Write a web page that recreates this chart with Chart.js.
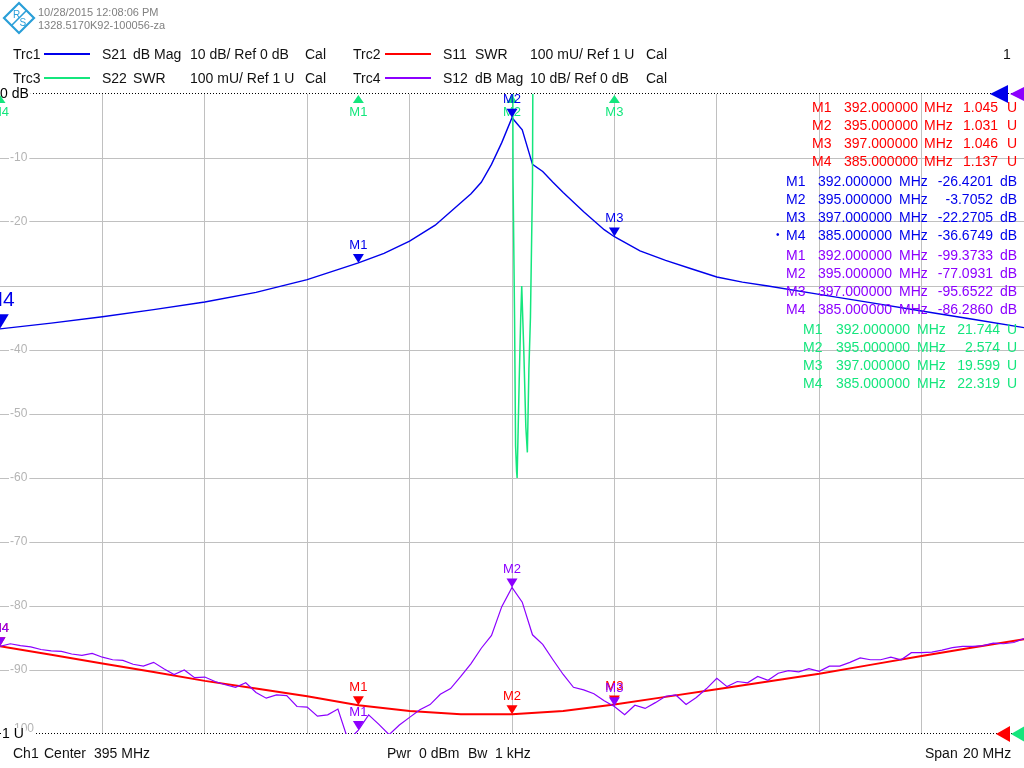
<!DOCTYPE html>
<html>
<head>
<meta charset="utf-8">
<script src="https://cdn.jsdelivr.net/npm/chart.js@4.4.0/dist/chart.umd.min.js"></script>
<style>
  html, body { margin: 0; padding: 0; background: #fff; }
  #wrap { position: relative; width: 1024px; height: 768px; overflow: hidden; font-family: "Liberation Sans", Arial, sans-serif; }
  #chart { position: absolute; left: 0; top: 0; }
  .t { position: absolute; white-space: pre; font-size: 14px; line-height: 16px; transform: translateY(-50%); }
  .r { transform: translate(-100%, -50%); }
  .tl { position: absolute; height: 2px; width: 46px; }
</style>
</head>
<body>
<div id="wrap">
  <canvas id="chart" width="1024" height="768"></canvas>
  <svg style="position:absolute;left:2px;top:1px" width="34" height="34" viewBox="0 0 34 34">
    <path d="M17 2 L32 17 L17 32 L2 17 Z" fill="none" stroke="#2a9fd8" stroke-width="2.2"/>
    <path d="M10 24 L24 10" stroke="#2a9fd8" stroke-width="1.6"/>
    <text x="11" y="17" font-family="Liberation Sans" font-size="10" fill="#2a9fd8">R</text>
    <text x="17.5" y="25" font-family="Liberation Sans" font-size="10" fill="#2a9fd8">S</text>
  </svg>
</div>
<script>
// sweep 385 .. 405 MHz (center 395, span 20)
const freqS21 = [385, 386, 387, 388, 389, 390, 391, 392, 392.5, 393, 393.5, 394, 394.2, 394.4, 394.6, 394.8,
    395, 395.2, 395.4, 395.6, 395.8, 396, 396.4, 396.8, 397, 397.5, 398, 398.5, 399, 399.5, 400, 401, 402, 403, 404, 405];
const s21 = [-36.7, -35.8, -34.8, -33.7, -32.5, -31.0, -29.0, -26.4, -24.9, -23.0, -20.5, -17.0, -15.6, -13.8, -11.0, -7.6,
    -3.7, -5.6, -11.0, -12.1, -13.8, -15.4, -18.4, -21.2, -22.3, -24.5, -26.0, -27.3, -28.6, -29.4, -30.0, -31.3, -32.6, -33.9, -35.2, -36.5];

const freqS11 = [385, 386, 387, 388, 389, 390, 391, 392, 393, 394, 395, 396, 397, 398, 399, 400, 401, 402, 403, 404, 405];
const s11 = [1.137, 1.124, 1.110, 1.097, 1.083, 1.071, 1.059, 1.045, 1.036, 1.031, 1.031, 1.036, 1.046, 1.058, 1.070, 1.082,
    1.094, 1.108, 1.122, 1.135, 1.148];

const freqS22 = [385, 388, 392, 394, 394.8, 394.9, 395, 395.02, 395.05, 395.07, 395.09, 395.1, 395.14, 395.17, 395.19,
    395.23, 395.27, 395.3, 395.33, 395.36, 395.4, 395.42, 395.5, 396, 397, 400, 405];
const s22 = [22.32, 22.1, 21.74, 15, 6, 4, 2.574, 1.87, 1.65, 1.45, 1.41, 1.40, 1.55, 1.65, 1.70,
    1.60, 1.48, 1.44, 1.57, 1.65, 1.86, 2.3, 8, 16, 19.6, 21, 22];

const freqS12 = [385.0, 385.2, 385.4, 385.6, 385.8, 386.0, 386.2, 386.4, 386.6, 386.8, 387.0, 387.2, 387.4, 387.6, 387.8,
    388.0, 388.2, 388.4, 388.6, 388.8, 389.0, 389.2, 389.4, 389.6, 389.8, 390.0, 390.2, 390.4, 390.6, 390.8,
    391.0, 391.2, 391.4, 391.6, 391.8, 392.0, 392.2, 392.4, 392.6, 392.8, 393.0, 393.2, 393.4, 393.6, 393.8,
    394.0, 394.2, 394.4, 394.6, 394.8, 395.0, 395.2, 395.4, 395.6, 395.8, 396.0, 396.2, 396.4, 396.6, 396.8,
    397.0, 397.2, 397.4, 397.6, 397.8, 398.0, 398.2, 398.4, 398.6, 398.8, 399.0, 399.2, 399.4, 399.6, 399.8,
    400.0, 400.2, 400.4, 400.6, 400.8, 401.0, 401.2, 401.4, 401.6, 401.8, 402.0, 402.2, 402.4, 402.6, 402.8,
    403.0, 403.2, 403.4, 403.6, 403.8, 404.0, 404.2, 404.4, 404.6, 404.8, 405.0];
const s12 = [-86.3, -85.9, -86.2, -86.4, -86.8, -87.0, -87.1, -87.5, -87.7, -87.4, -88.0, -88.4, -88.5, -89.1, -89.4,
    -88.8, -89.8, -90.7, -90.0, -91.2, -91.1, -91.8, -92.3, -92.7, -92.0, -93.5, -94.4, -93.9, -94.0, -95.7,
    -95.8, -97.2, -97.0, -96.1, -101.0, -99.4, -97.0, -98.5, -100.1, -98.6, -97.4, -96.2, -95.4, -93.8, -92.9,
    -91.0, -89.0, -86.6, -84.6, -80.1, -77.1, -79.4, -84.5, -86.0, -88.4, -90.7, -92.7, -93.1, -93.7, -94.8,
    -95.7, -97.0, -95.5, -96.0, -95.1, -94.1, -93.9, -95.4, -94.3, -92.9, -91.3, -92.6, -91.8, -92.0, -91.0,
    -91.6, -90.5, -90.1, -90.3, -89.8, -90.2, -89.4, -89.4, -88.8, -88.1, -88.4, -88.4, -88.0, -88.4, -87.3,
    -87.3, -87.2, -86.9, -86.5, -86.3, -86.3, -86.2, -85.8, -85.9, -85.7, -85.1];

// markers
const markerNames = ["M1", "M2", "M3", "M4"];
const markerFreqs = [392, 395, 397, 385];
const mkS11 = [1.045, 1.031, 1.046, 1.137];
const mkS21 = [-26.4201, -3.7052, -22.2705, -36.6749];
const mkS12 = [-99.3733, -77.0931, -95.6522, -86.2860];
const mkS22 = [21.744, 2.574, 19.599, 22.319];

// y grid labels (dB traces); -30 is covered by the M4 marker on the instrument
const dbTicks = [-10, -20, -40, -50, -60, -70, -80, -90, -100];
const dbTickLabels = ["-10", "-20", "-40", "-50", "-60", "-70", "-80", "-90", "-100"];

const BLUE = "rgb(0,0,235)";
const RED = "rgb(255,0,0)";
const GREEN = "rgb(20,230,125)";
const PURPLE = "rgb(140,0,255)";
const FONT = "'Liberation Sans', Arial, sans-serif";

const wrap = document.getElementById("wrap");

function put(text, x, y, color, size, right) {
    const el = document.createElement("div");
    el.className = right ? "t r" : "t";
    el.textContent = text;
    el.style.left = x + "px";
    el.style.top = y + "px";
    el.style.color = color || "#111";
    if (size) el.style.fontSize = size + "px";
    wrap.appendChild(el);
}

function traceLine(x, y, color) {
    const el = document.createElement("div");
    el.className = "tl";
    el.style.left = x + "px";
    el.style.top = (y - 1) + "px";
    el.style.background = color;
    wrap.appendChild(el);
}

// header
put("10/28/2015 12:08:06 PM", 38, 12, "#808080", 11);
put("1328.5170K92-100056-za", 38, 25, "#808080", 11);

put("Trc1", 13, 54); traceLine(44, 54, BLUE); put("S21", 102, 54); put("dB Mag", 133, 54);
put("10 dB/ Ref 0 dB", 190, 54); put("Cal", 305, 54);
put("Trc2", 353, 54); traceLine(385, 54, RED); put("S11", 443, 54); put("SWR", 475, 54);
put("100 mU/ Ref 1 U", 530, 54); put("Cal", 646, 54);
put("1", 1003, 54);

put("Trc3", 13, 78); traceLine(44, 78, GREEN); put("S22", 102, 78); put("SWR", 133, 78);
put("100 mU/ Ref 1 U", 190, 78); put("Cal", 305, 78);
put("Trc4", 353, 78); traceLine(385, 78, PURPLE); put("S12", 443, 78); put("dB Mag", 475, 78);
put("10 dB/ Ref 0 dB", 530, 78); put("Cal", 646, 78);

// footer
put("Ch1", 13, 753); put("Center", 44, 753); put("395 MHz", 94, 753);
put("Pwr", 387, 753); put("0 dBm", 419, 753); put("Bw", 468, 753); put("1 kHz", 495, 753);
put("Span", 925, 753); put("20 MHz", 963, 753);

// marker readout
function readout(vals, digits, unit, color, cols, y0) {
    vals.forEach((v, i) => {
        const y = y0 + i * 18;
        put(markerNames[i], cols[0], y, color);
        put(markerFreqs[i].toFixed(6), cols[1], y, color, 0, true);
        put("MHz", cols[2], y, color);
        put(v.toFixed(digits), cols[3], y, color, 0, true);
        put(unit, cols[4], y, color);
    });
}
readout(mkS11, 3, "U", RED, [812, 918, 924, 998, 1007], 106.7);
readout(mkS21, 4, "dB", BLUE, [786, 892, 899, 993, 1000], 180.7);
put("\u2022", 776, 234.7, BLUE, 10);
readout(mkS12, 4, "dB", PURPLE, [786, 892, 899, 993, 1000], 254.7);
readout(mkS22, 3, "U", GREEN, [803, 910, 917, 1000, 1007], 328.5);

const traces = [
    { axis: "swr", color: GREEN, vals: mkS22, active: -1 },
    { axis: "db", color: BLUE, vals: mkS21, active: 3 },
    { axis: "swr", color: RED, vals: mkS11, active: -1 },
    { axis: "db", color: PURPLE, vals: mkS12, active: -1 },
];

function tri(ctx, x, y, w, h, up) {
    ctx.beginPath();
    ctx.moveTo(x, y);
    ctx.lineTo(x - w / 2, up ? y + h : y - h);
    ctx.lineTo(x + w / 2, up ? y + h : y - h);
    ctx.closePath();
    ctx.fill();
}

function refArrow(ctx, tipX, y, w, h) {
    ctx.beginPath();
    ctx.moveTo(tipX, y);
    ctx.lineTo(tipX + w, y - h / 2);
    ctx.lineTo(tipX + w, y + h / 2);
    ctx.closePath();
    ctx.fill();
}

const vnaPlugin = {
    id: "vna",
    beforeDatasetsDraw(chart) {
        const { ctx, chartArea: a, scales } = chart;
        const db = scales.db;
        ctx.save();
        ctx.strokeStyle = "#000";
        ctx.lineWidth = 1;
        ctx.setLineDash([1, 2]);
        [db.getPixelForValue(0), db.getPixelForValue(-100)].forEach((y) => {
            const yy = Math.round(y) - 0.5;
            ctx.beginPath();
            ctx.moveTo(a.left, yy);
            ctx.lineTo(a.right, yy);
            ctx.stroke();
        });
        ctx.setLineDash([]);
        ctx.textBaseline = "middle";
        ctx.font = "12px " + FONT;
        dbTicks.forEach((v, i) => {
            const y = db.getPixelForValue(v);
            const w = ctx.measureText(dbTickLabels[i]).width;
            ctx.fillStyle = "#fff";
            ctx.fillRect(9, y - 6, w + 3, 12);
            ctx.fillStyle = "#b4b4b4";
            ctx.fillText(dbTickLabels[i], 10, y - (v === -100 ? 5 : 0));
        });
        ctx.font = "14px " + FONT;
        [["0 dB", db.getPixelForValue(0), 0], ["1 U", scales.swr.getPixelForValue(1), 2]].forEach(([s, y, x]) => {
            const w = ctx.measureText(s).width;
            ctx.fillStyle = "#fff";
            ctx.fillRect(x, y - 6, w + 2, 12);
            ctx.fillStyle = "#000";
            ctx.fillText(s, x, y);
        });
        ctx.restore();
    },
    afterDatasetsDraw(chart) {
        const { ctx, chartArea: a, scales } = chart;
        ctx.save();
        ctx.textAlign = "center";
        ctx.textBaseline = "middle";
        traces.forEach((tr) => {
            const sc = scales[tr.axis];
            tr.vals.forEach((v, i) => {
                const px = scales.x.getPixelForValue(markerFreqs[i]);
                const py = sc.getPixelForValue(v);
                const big = tr.active === i ? 1.6 : 1;
                ctx.fillStyle = tr.color;
                ctx.font = Math.round(13 * big) + "px " + FONT;
                if (py < a.top) {
                    tri(ctx, px, a.top + 1, 11, 8, true);
                    ctx.fillText(markerNames[i], px, a.top + 18);
                } else {
                    tri(ctx, px, py, 11 * big, 9 * big, false);
                    ctx.fillText(markerNames[i], px, py - 18 * big);
                }
            });
        });
        // reference level arrows
        const y0 = scales.db.getPixelForValue(0);
        const y1 = scales.swr.getPixelForValue(1);
        ctx.fillStyle = BLUE; refArrow(ctx, a.right - 34, y0, 18, 18);
        ctx.fillStyle = PURPLE; refArrow(ctx, a.right - 14, y0, 18, 18);
        ctx.fillStyle = RED; refArrow(ctx, a.right - 28, y1, 14, 16);
        ctx.fillStyle = GREEN; refArrow(ctx, a.right - 13, y1, 14, 16);
        ctx.restore();
    },
};

const pts = (xs, ys) => xs.map((x, i) => ({ x: x, y: ys[i] }));

new Chart(document.getElementById("chart"), {
    type: "line",
    data: {
        datasets: [
            { label: "Trc4 S12", data: pts(freqS12, s12), yAxisID: "db", borderColor: PURPLE, borderWidth: 1.2 },
            { label: "Trc2 S11", data: pts(freqS11, s11), yAxisID: "swr", borderColor: RED, borderWidth: 2 },
            { label: "Trc3 S22", data: pts(freqS22, s22), yAxisID: "swr", borderColor: GREEN, borderWidth: 1.5 },
            { label: "Trc1 S21", data: pts(freqS21, s21), yAxisID: "db", borderColor: BLUE, borderWidth: 1.4 },
        ],
    },
    options: {
        responsive: false,
        animation: false,
        elements: { point: { radius: 0 }, line: { tension: 0 } },
        layout: { padding: { top: 94, bottom: 34, left: 0, right: 0 } },
        plugins: { legend: { display: false }, tooltip: { enabled: false } },
        scales: {
            x: {
                type: "linear", min: 385, max: 405,
                ticks: { display: false, stepSize: 2 },
                grid: { drawTicks: false, color: (c) => (c.tick && (c.tick.value === 385 || c.tick.value === 405) ? "rgba(0,0,0,0)" : "rgb(192,192,192)") },
                border: { display: false },
            },
            db: {
                position: "left", min: -100, max: 0,
                ticks: { display: false, stepSize: 10 },
                grid: { drawTicks: false, color: (c) => (c.tick && (c.tick.value === 0 || c.tick.value === -100) ? "rgba(0,0,0,0)" : "rgb(192,192,192)") },
                border: { display: false },
            },
            swr: { position: "right", min: 1, max: 2, display: false },
        },
    },
    plugins: [vnaPlugin],
});
</script>
</body>
</html>
